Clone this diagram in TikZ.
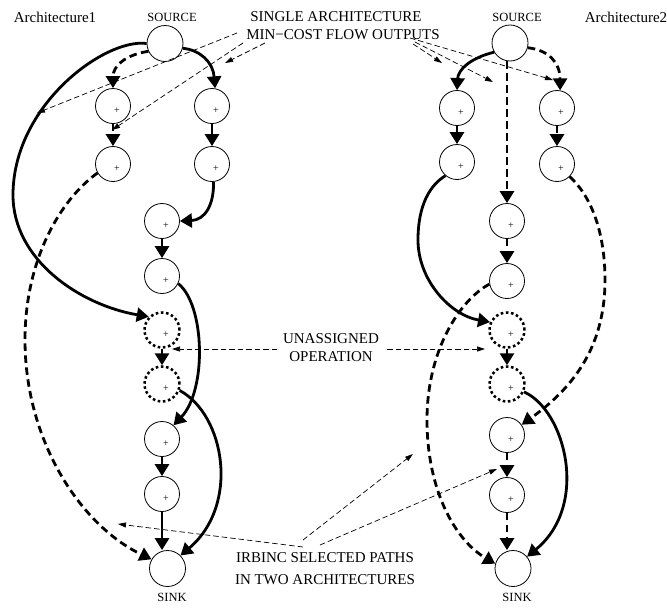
\documentclass[tikz,border=0pt]{standalone}
\usepackage{fontspec}
\setmainfont{Liberation Serif}
\usetikzlibrary{arrows.meta}
\begin{document}
\begin{tikzpicture}[x=1pt,y=-1pt,
  op/.style={circle,draw,line width=0.8pt,minimum size=35pt,inner sep=0pt,
     label={[font=\fontsize{10}{10}\selectfont,inner sep=0pt,xshift=4pt,yshift=-5pt]center:+}},
  unop/.style={op,line width=2.5pt,dash pattern=on 2.6pt off 2.6pt},
  term/.style={circle,draw,line width=0.8pt,minimum size=36pt,inner sep=0pt},
  solidarr/.style={line width=2.8pt,-{Triangle[length=12pt,width=14pt]}},
  dasharr/.style={solidarr,dash pattern=on 7.5pt off 4.5pt},
  note/.style={line width=0.7pt,dash pattern=on 5.5pt off 3pt,-{Triangle[length=8pt,width=5pt]}},
  big/.style={font=\fontsize{15}{18}\selectfont,inner sep=0pt},
  lbl/.style={font=\fontsize{12.5}{15}\selectfont,inner sep=0pt}]
\useasboundingbox (0,0) rectangle (667,608);

% ---- texts
\node[big] (arch1) at (55,17) {Architecture1};
\node[big] (arch2) at (626,17) {Architecture2};
\node[lbl] (src1) at (172,17) {SOURCE};
\node[lbl] (src2) at (517,17) {SOURCE};
\node[lbl] (snk1) at (172,597) {SINK};
\node[lbl] (snk2) at (517,597) {SINK};
\node[big] (t1) at (336,17) {SINGLE ARCHITECTURE};
\node[big] (t2) at (343,35) {MIN−COST FLOW OUTPUTS};
\node[big] (t3) at (331,339) {UNASSIGNED};
\node[big] (t4) at (331,357) {OPERATION};
\node[big] (t5) at (325,558) {IRBINC SELECTED PATHS};
\node[big] (t6) at (325,580) {IN TWO ARCHITECTURES};

% ---- left architecture
\node[term] (S1) at (165,43.5) {};
\node[op] (a1) at (113,106) {};
\node[op] (a2) at (113,164) {};
\node[op] (b1) at (212,106) {};
\node[op] (b2) at (212,164) {};
\node[op] (m1) at (162,221) {};
\node[op] (m2) at (162,276) {};
\node[unop] (u1) at (162,330) {};
\node[unop] (u2) at (162,384) {};
\node[op] (m5) at (162,439) {};
\node[op] (m6) at (162,494) {};
\node[term] (T1) at (167.5,568.5) {};

% ---- right architecture
\node[term] (S2) at (510,43) {};
\node[op] (c1) at (457,108) {};
\node[op] (c2) at (457,162) {};
\node[op] (d1) at (557,108) {};
\node[op] (d2) at (557,164) {};
\node[op] (n1) at (507,221) {};
\node[op] (n2) at (507,281) {};
\node[unop] (v1) at (507,330) {};
\node[unop] (v2) at (507,384) {};
\node[op] (n5) at (507,435) {};
\node[op] (n6) at (507,495) {};
\node[term] (T2) at (513,568.5) {};

% ---- left edges
\draw[solidarr] (S1.-15) .. controls (200,50) and (213,62) .. (b1.80);
\draw[dasharr] (S1.-155) .. controls (125,55) and (113,66) .. (a1.north);
\draw[dasharr] (a1) -- (a2);
\draw[solidarr] (b1) -- (b2);
\draw[solidarr] (b2.-85) .. controls (214,205) and (205,220) .. (m1.east);
\draw[solidarr] (m1) -- (m2);
\draw[solidarr] (S1.west) .. controls (105,38) and (13,105) .. (13,195)
   .. controls (13,260) and (80,305) .. (u1.north west);
\draw[solidarr] (u1) -- (u2);
\draw[solidarr] (m2.-25) .. controls (205,305) and (207,390) .. (m5.50);
\draw[solidarr] (u2.-20) .. controls (225,415) and (240,505) .. (T1.45);
\draw[solidarr] (m5) -- (m6);
\draw[solidarr] (m6.south) -- (m6.south |- T1.north);
\draw[dasharr] (a2.-150) .. controls (60,200) and (25,260) .. (25,340)
   .. controls (25,440) and (80,525) .. (T1.150);

% ---- right edges
\draw[solidarr] (S2.-150) .. controls (470,58) and (458,70) .. (c1.north);
\draw[dasharr] (S2.south -| n1.north) -- (n1.north);
\draw[dasharr] (S2.-15) .. controls (548,50) and (560,62) .. (d1.80);
\draw[solidarr] (c1) -- (c2);
\draw[dasharr] (d1) -- (d2);
\draw[solidarr] (c2.-130) .. controls (430,185) and (418,205) .. (418,240)
   .. controls (418,280) and (450,315) .. (v1.155);
\draw[dasharr] (n1) -- (n2);
\draw[solidarr] (v1) -- (v2);
\draw[dasharr] (n2.-170) .. controls (460,300) and (427,350) .. (427,420)
   .. controls (427,490) and (455,540) .. (T2.165);
\draw[dasharr] (d2.-45) .. controls (590,195) and (605,230) .. (605,280)
   .. controls (605,350) and (570,390) .. (n5.35);
\draw[solidarr] (v2.-25) .. controls (565,410) and (590,505) .. (T2.40);
\draw[dasharr] (n5) -- (n6);
\draw[dasharr] (n6.south) -- (n6.south |- T2.north);

% ---- annotation arrows
\coordinate (p1) at (237,33);  \coordinate (q1) at (37,113);
\coordinate (p2) at (243,43);  \coordinate (q2) at (112,130);
\coordinate (p3) at (265,43);  \coordinate (q3) at (225,63);
\coordinate (p4) at (413,44);  \coordinate (q4) at (442,63);
\coordinate (p5) at (415,42);  \coordinate (q5) at (493,82);
\coordinate (p6) at (410,38);  \coordinate (q6) at (553,80);
\coordinate (p7) at (277,349); \coordinate (q7) at (172,349);
\coordinate (p8) at (387,349); \coordinate (q8) at (485,349);
\coordinate (p9) at (303,547); \coordinate (q9) at (118,524);
\coordinate (p10) at (303,540); \coordinate (q10) at (413,454);
\coordinate (p11) at (320,545); \coordinate (q11) at (497,469);
\foreach \i in {1,...,11} {\draw[note] (p\i) -- (q\i);}
\end{tikzpicture}
\end{document}
